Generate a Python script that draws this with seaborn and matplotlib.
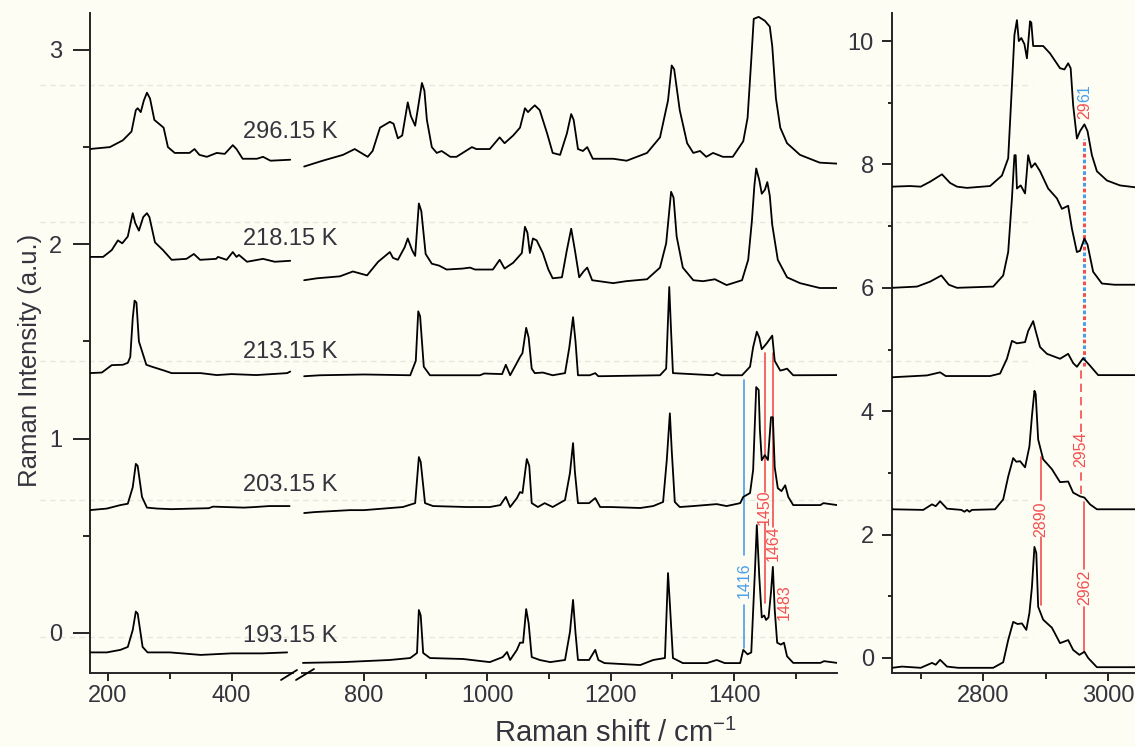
import matplotlib
matplotlib.use("Agg")
import matplotlib.pyplot as plt
import pandas as pd
import seaborn as sns
from matplotlib.lines import Line2D
from matplotlib.ticker import FixedLocator

# ---------------- data ----------------
temps = ["296.15 K", "218.15 K", "213.15 K", "203.15 K", "193.15 K"]
temp_label_y = [2.576, 2.026, 1.445, 0.761, -0.015]

# low-wavenumber segment (170-500 cm-1)
T296_lo = [(170,2.49),(203,2.50),(224,2.535),(238,2.58),(245,2.69),(248,2.70),(253,2.68),(258,2.74),(263,2.78),
           (268,2.75),(275,2.64),(290,2.60),(297,2.50),(308,2.47),(332,2.47),(340,2.49),(348,2.46),(360,2.45),
           (376,2.47),(389,2.465),(402,2.51),(408,2.49),(418,2.44),(441,2.44),(451,2.45),(463,2.43),(495,2.435)]
T218_lo = [(170,1.935),(192,1.935),(206,1.97),(216,2.02),(223,2.005),(232,2.04),(240,2.16),(244,2.11),(250,2.07),
           (257,2.14),(263,2.16),(267,2.14),(276,2.01),(289,1.97),(303,1.92),(327,1.925),(339,1.95),(349,1.92),
           (375,1.925),(378,1.935),(392,1.92),(402,1.96),(408,1.935),(412,1.945),(425,1.91),(451,1.925),
           (470,1.91),(495,1.915)]
T213_lo = [(170,1.337),(190,1.34),(206,1.378),(224,1.38),(232,1.39),(236,1.42),(240,1.62),(243,1.71),(246,1.70),
           (250,1.50),(256,1.44),(262,1.38),(271,1.37),(291,1.35),(303,1.337),(350,1.337),(376,1.327),
           (400,1.332),(440,1.327),(490,1.337),(495,1.345)]
T203_lo = [(170,0.632),(198,0.64),(220,0.658),(232,0.665),(240,0.75),(245,0.87),(248,0.86),(255,0.70),
           (263,0.645),(280,0.64),(303,0.637),(363,0.642),(370,0.65),(420,0.645),(438,0.648),(461,0.653),
           (494,0.653)]
T193_lo = [(170,-0.10),(198,-0.10),(220,-0.087),(232,-0.072),(240,0.015),(245,0.11),(248,0.10),(256,-0.072),
           (264,-0.10),(300,-0.10),(350,-0.113),(400,-0.105),(450,-0.105),(490,-0.10)]

# fingerprint segment (700-1567 cm-1)
T296_hi = [(703,2.40),(733,2.43),(766,2.46),(785,2.49),(806,2.45),(814,2.48),(826,2.60),(842,2.63),(848,2.62),
           (855,2.545),(862,2.56),(871,2.73),(876,2.66),(883,2.61),(889,2.73),(894,2.83),(898,2.79),(902,2.64),
           (910,2.50),(918,2.47),(926,2.48),(940,2.45),(950,2.45),(960,2.47),(975,2.50),(982,2.49),(1004,2.49),
           (1020,2.55),(1028,2.52),(1042,2.56),(1053,2.60),(1061,2.70),(1066,2.68),(1072,2.70),(1077,2.715),
           (1085,2.69),(1097,2.57),(1106,2.47),(1118,2.46),(1129,2.57),(1136,2.67),(1140,2.64),(1147,2.49),
           (1155,2.48),(1162,2.50),(1171,2.44),(1204,2.44),(1226,2.43),(1259,2.47),(1280,2.55),(1293,2.74),
           (1299,2.92),(1303,2.90),(1312,2.69),(1324,2.52),(1334,2.47),(1345,2.48),(1355,2.45),(1366,2.47),
           (1382,2.45),(1398,2.45),(1415,2.53),(1422,2.65),(1428,2.95),(1432,3.16),(1440,3.17),(1450,3.15),
           (1458,3.12),(1462,3.02),(1468,2.75),(1475,2.60),(1486,2.52),(1507,2.46),(1539,2.42),(1567,2.415)]
T218_hi = [(703,1.815),(724,1.825),(761,1.835),(782,1.86),(805,1.84),(823,1.91),(842,1.96),(847,1.93),(855,1.92),
           (866,1.985),(871,2.03),(878,1.97),(883,1.94),(889,2.21),(893,2.17),(900,1.95),(910,1.90),(922,1.89),
           (934,1.87),(960,1.875),(972,1.88),(980,1.87),(1009,1.87),(1020,1.92),(1028,1.875),(1042,1.905),
           (1056,1.955),(1061,2.09),(1065,2.06),(1069,1.955),(1074,2.03),(1080,2.02),(1090,1.955),(1099,1.87),
           (1106,1.825),(1121,1.83),(1129,1.97),(1136,2.08),(1142,1.97),(1149,1.83),(1156,1.86),(1162,1.88),
           (1170,1.815),(1204,1.80),(1225,1.81),(1259,1.82),(1280,1.88),(1290,2.005),(1298,2.27),(1302,2.24),
           (1307,2.04),(1317,1.88),(1334,1.815),(1350,1.81),(1369,1.82),(1388,1.79),(1413,1.815),(1423,1.92),
           (1429,2.12),(1433,2.30),(1436,2.39),(1441,2.33),(1445,2.26),(1450,2.28),(1454,2.32),(1458,2.25),
           (1462,2.10),(1471,1.92),(1486,1.83),(1507,1.80),(1539,1.775),(1567,1.775)]
T213_hi = [(703,1.321),(729,1.326),(800,1.33),(875,1.326),(884,1.40),(888,1.655),(891,1.63),(897,1.37),
           (907,1.326),(988,1.326),(995,1.335),(1024,1.332),(1030,1.38),(1037,1.326),(1048,1.39),(1053,1.42),
           (1057,1.44),(1063,1.57),(1067,1.52),(1072,1.36),(1077,1.337),(1090,1.34),(1106,1.326),(1126,1.337),
           (1133,1.47),(1139,1.625),(1143,1.50),(1147,1.326),(1166,1.326),(1175,1.337),(1180,1.321),(1280,1.326),
           (1290,1.36),(1295,1.78),(1298,1.55),(1301,1.337),(1366,1.326),(1372,1.337),(1380,1.326),(1413,1.326),
           (1426,1.37),(1431,1.47),(1437,1.55),(1441,1.52),(1445,1.46),(1453,1.49),(1462,1.53),(1466,1.40),
           (1475,1.35),(1481,1.355),(1486,1.36),(1496,1.326),(1567,1.327)]
T203_hi = [(703,0.617),(720,0.622),(777,0.632),(800,0.632),(863,0.648),(883,0.668),(889,0.905),(892,0.88),
           (899,0.668),(912,0.653),(967,0.648),(1004,0.648),(1021,0.658),(1030,0.70),(1037,0.648),(1048,0.694),
           (1053,0.725),(1057,0.72),(1064,0.895),(1068,0.86),(1072,0.668),(1082,0.648),(1093,0.668),(1106,0.648),
           (1126,0.684),(1134,0.823),(1139,0.977),(1142,0.83),(1147,0.668),(1165,0.668),(1175,0.694),(1183,0.648),
           (1200,0.648),(1248,0.643),(1269,0.653),(1285,0.674),(1291,0.89),(1296,1.13),(1299,0.94),(1304,0.674),
           (1312,0.648),(1334,0.653),(1372,0.663),(1388,0.653),(1410,0.668),(1415,0.70),(1426,0.72),(1431,0.838),
           (1436,1.265),(1440,1.25),(1442,1.044),(1445,0.889),(1450,0.915),(1455,0.89),(1460,1.11),(1463,1.11),
           (1466,0.853),(1471,0.745),(1477,0.73),(1483,0.76),(1488,0.70),(1496,0.658),(1540,0.658),(1545,0.668),
           (1567,0.658)]
T193_hi = [(701,-0.154),(766,-0.15),(842,-0.139),(875,-0.129),(886,-0.103),(889,0.118),(892,0.09),(896,-0.103),
           (907,-0.129),(961,-0.134),(1004,-0.15),(1025,-0.124),(1032,-0.098),(1037,-0.139),(1048,-0.087),
           (1053,-0.05),(1058,-0.05),(1063,0.123),(1067,0.05),(1072,-0.124),(1085,-0.139),(1102,-0.15),
           (1126,-0.139),(1134,0.005),(1139,0.17),(1143,0.0),(1147,-0.139),(1165,-0.139),(1175,-0.087),
           (1180,-0.139),(1190,-0.155),(1248,-0.165),(1269,-0.139),(1288,-0.129),(1293,0.308),(1296,0.15),
           (1301,-0.129),(1317,-0.155),(1356,-0.155),(1372,-0.139),(1385,-0.155),(1410,-0.155),(1415,-0.087),
           (1422,-0.11),(1428,-0.10),(1434,0.324),(1437,0.555),(1441,0.288),(1445,0.08),(1449,0.09),(1452,0.067),
           (1456,0.08),(1460,0.21),(1463,0.34),(1466,0.12),(1470,-0.05),(1476,-0.06),(1481,-0.05),(1486,-0.12),
           (1496,-0.154),(1540,-0.154),(1546,-0.145),(1567,-0.154)]

# C-H stretching region (right panel)
R296 = [(2654,7.64),(2683,7.65),(2700,7.64),(2715,7.72),(2734,7.84),(2747,7.70),(2758,7.64),(2774,7.62),
        (2811,7.65),(2830,7.82),(2840,8.10),(2846,9.28),(2850,10.1),(2854,10.34),(2857,10.0),(2861,10.05),
        (2866,9.95),(2870,9.72),(2875,10.32),(2877,10.30),(2880,9.92),(2896,9.92),(2907,9.80),(2923,9.56),
        (2930,9.54),(2936,9.64),(2940,9.56),(2944,8.96),(2950,8.42),(2955,8.54),(2962,8.65),(2967,8.54),
        (2974,8.15),(2982,7.89),(2998,7.74),(3019,7.66),(3043,7.63)]
R218 = [(2654,6.0),(2694,6.02),(2715,6.10),(2733,6.20),(2745,6.05),(2758,6.0),(2816,6.02),(2832,6.20),(2840,6.58),
        (2846,7.45),(2850,8.15),(2852,8.15),(2854,7.61),(2860,7.66),(2867,7.53),(2872,8.15),(2877,7.95),
        (2883,8.02),(2891,7.89),(2904,7.61),(2918,7.45),(2926,7.28),(2936,7.33),(2942,6.96),(2950,6.58),
        (2955,6.60),(2962,6.80),(2967,6.70),(2976,6.26),(2990,6.07),(3010,6.05),(3043,6.05)]
R213 = [(2654,4.55),(2710,4.58),(2731,4.63),(2740,4.57),(2811,4.57),(2827,4.61),(2838,4.85),(2846,5.14),
        (2854,5.10),(2867,5.12),(2872,5.30),(2880,5.46),(2884,5.30),(2891,5.04),(2902,4.93),(2923,4.85),
        (2936,4.93),(2944,4.78),(2950,4.72),(2960,4.86),(2970,4.75),(2984,4.585),(3043,4.585)]
R203 = [(2654,2.41),(2704,2.40),(2718,2.49),(2724,2.46),(2731,2.54),(2742,2.42),(2765,2.40),(2770,2.37),
        (2774,2.40),(2778,2.37),(2782,2.40),(2819,2.41),(2832,2.57),(2840,2.94),(2848,3.24),(2853,3.18),
        (2859,3.19),(2867,3.09),(2874,3.43),(2878,3.92),(2882,4.33),(2884,4.28),(2888,3.54),(2896,3.22),
        (2910,3.06),(2923,2.85),(2936,2.86),(2944,2.68),(2955,2.62),(2962,2.60),(2971,2.49),(2982,2.41),
        (3043,2.41)]
R193 = [(2654,-0.16),(2670,-0.14),(2700,-0.16),(2718,-0.08),(2724,-0.11),(2731,-0.03),(2742,-0.14),(2760,-0.16),
        (2816,-0.16),(2832,-0.07),(2840,0.29),(2848,0.585),(2855,0.55),(2862,0.56),(2869,0.455),(2874,0.73),
        (2878,1.15),(2882,1.80),(2885,1.70),(2888,0.83),(2896,0.62),(2910,0.49),(2923,0.24),(2936,0.29),
        (2944,0.13),(2954,0.05),(2962,0.10),(2968,0.0),(2982,-0.15),(3043,-0.15)]

# ---------------- style ----------------
BG = "#fdfdf4"
RED = "#f25050"
BLUE = "#4a9ee8"
TXT = "#34343e"

sns.set_theme(style="ticks")
plt.rcParams["font.family"] = ["Liberation Sans", "DejaVu Sans"]
plt.rcParams["mathtext.fontset"] = "custom"
plt.rcParams["mathtext.rm"] = "Liberation Sans"
plt.rcParams["mathtext.it"] = "Liberation Sans"

W, H = 1135, 747
fig = plt.figure(figsize=(W / 100, H / 100), dpi=100, facecolor=BG)

bottom, height = 74 / H, 660 / H
ax1 = fig.add_axes([90 / W, bottom, 203.3 / W, height])
ax2 = fig.add_axes([302.3 / W, bottom, 534.7 / W, height])
ax3 = fig.add_axes([892 / W, bottom, 243 / W, height])

# faint horizontal artefact lines of the original
for py in [85, 222, 361, 500, 637]:
    fig.add_artist(Line2D([40 / W, 1032 / W], [1 - py / H] * 2, color="#e7e7df", lw=1.0,
                          ls=(0, (4, 3)), zorder=0))


def draw(ax, pts):
    df = pd.DataFrame(pts, columns=["x", "y"])
    sns.lineplot(data=df, x="x", y="y", ax=ax, color="black", lw=1.3,
                 sort=False, estimator=None, zorder=3)


for seg in [T296_lo, T218_lo, T213_lo, T203_lo, T193_lo]:
    draw(ax1, seg)
for seg in [T296_hi, T218_hi, T213_hi, T203_hi, T193_hi]:
    draw(ax2, seg)
for seg in [R296, R218, R213, R203, R193]:
    draw(ax3, seg)

for ax in (ax1, ax2, ax3):
    ax.set_facecolor("none")
    ax.set_xlabel("")
    ax.set_ylabel("")
    for s in ("top", "right"):
        ax.spines[s].set_visible(False)
    ax.spines["bottom"].set_linewidth(1.4)
    ax.spines["left"].set_linewidth(1.4)
    ax.tick_params(axis="both", which="both", direction="out", color="black", width=1.2,
                   labelcolor=TXT, labelsize=17)
    ax.tick_params(axis="x", which="major", length=6, pad=3)
    ax.tick_params(axis="x", which="minor", length=4)

ylim_left = (-0.206, 3.19)
ax1.set_xlim(170.8, 500)
ax2.set_xlim(700, 1567)
ax1.set_ylim(*ylim_left)
ax2.set_ylim(*ylim_left)
ax3.set_xlim(2654, 3043)
ax3.set_ylim(-0.244, 10.455)

ax1.xaxis.set_major_locator(FixedLocator([200, 400]))
ax1.xaxis.set_minor_locator(FixedLocator([300]))
ax2.xaxis.set_major_locator(FixedLocator([800, 1000, 1200, 1400]))
ax2.xaxis.set_minor_locator(FixedLocator([900, 1100, 1300, 1500]))
ax3.xaxis.set_major_locator(FixedLocator([2800, 3000]))
ax3.xaxis.set_minor_locator(FixedLocator([2700, 2900]))

ax1.yaxis.set_major_locator(FixedLocator([0, 1, 2, 3]))
ax1.yaxis.set_minor_locator(FixedLocator([0.5, 1.5, 2.5]))
ax1.tick_params(axis="y", which="major", length=12, pad=8)
ax1.tick_params(axis="y", which="minor", length=5)
ax3.yaxis.set_major_locator(FixedLocator([0, 2, 4, 6, 8, 10]))
ax3.yaxis.set_minor_locator(FixedLocator([1, 3, 5, 7, 9]))
ax3.tick_params(axis="y", which="major", length=7, pad=6)
ax3.tick_params(axis="y", which="minor", length=3)

ax2.spines["left"].set_visible(False)
ax2.tick_params(axis="y", which="both", left=False, labelleft=False)

# temperature labels
for t, y in zip(temps, temp_label_y):
    ax1.text(419, y, t, ha="left", va="center", fontsize=17, color=TXT, zorder=4)

# band annotations (left panel)
def vseg(ax, x, y0, y1, color, ls="-", lw=1.2):
    ax.plot([x, x], [y0, y1], color=color, ls=ls, lw=lw, zorder=2)

vseg(ax2, 1416, 0.40, 1.30, BLUE)
vseg(ax2, 1416, -0.077, 0.145, BLUE)
ax2.text(1416, 0.272, "1416", rotation=90, ha="center", va="center", fontsize=11.5, color=BLUE)

vseg(ax2, 1450, 0.725, 1.44, RED)
vseg(ax2, 1450, 0.155, 0.565, RED)
ax2.text(1449, 0.648, "1450", rotation=90, ha="center", va="center", fontsize=11.5, color=RED)

vseg(ax2, 1463, 0.545, 1.44, RED)
ax2.text(1464, 0.462, "1464", rotation=90, ha="center", va="center", fontsize=11.5, color=RED)

ax2.text(1482, 0.16, "1483", rotation=90, ha="center", va="center", fontsize=11.5, color=RED)

# band annotations (right panel)
vseg(ax3, 2962, 4.73, 8.42, RED, ls=(0, (1.2, 2.6)), lw=2.2)
vseg(ax3, 2962, 4.73, 8.42, BLUE, ls=(1.9, (1.2, 2.6)), lw=2.2)
ax3.text(2963, 9.02, "29", rotation=90, ha="center", va="top", fontsize=11.5, color=RED)
ax3.text(2963, 9.02, "61", rotation=90, ha="center", va="bottom", fontsize=11.5, color=BLUE)

vseg(ax3, 2956, 3.66, 4.70, RED, ls=(0, (5, 3)))
vseg(ax3, 2956, 2.66, 3.10, RED, ls=(0, (5, 3)))
ax3.text(2956, 3.38, "2954", rotation=90, ha="center", va="center", fontsize=11.5, color=RED)

vseg(ax3, 2892, 2.56, 3.25, RED)
vseg(ax3, 2892, 0.86, 1.96, RED)
ax3.text(2892, 2.25, "2890", rotation=90, ha="center", va="center", fontsize=11.5, color=RED)

vseg(ax3, 2962, 1.45, 2.52, RED)
vseg(ax3, 2962, 0.10, 0.83, RED)
ax3.text(2962, 1.14, "2962", rotation=90, ha="center", va="center", fontsize=11.5, color=RED)

# axis break marks
for (x0, y0, x1, y1) in [(281, 680, 297, 670), (296, 680, 314, 669)]:
    fig.add_artist(Line2D([x0 / W, x1 / W], [1 - y0 / H, 1 - y1 / H], color="black", lw=1.3))

# axis titles
fig.text(615 / W, 1 - 742 / H, r"Raman shift / cm$^{\mathregular{-1}}$", ha="center", va="baseline",
         fontsize=21, color=TXT)
fig.text(30 / W, 1 - 360 / H, "Raman Intensity (a.u.)", rotation=90, ha="center", va="center",
         fontsize=18.5, color=TXT)

fig.savefig("out.png", dpi=100, facecolor=fig.get_facecolor())
